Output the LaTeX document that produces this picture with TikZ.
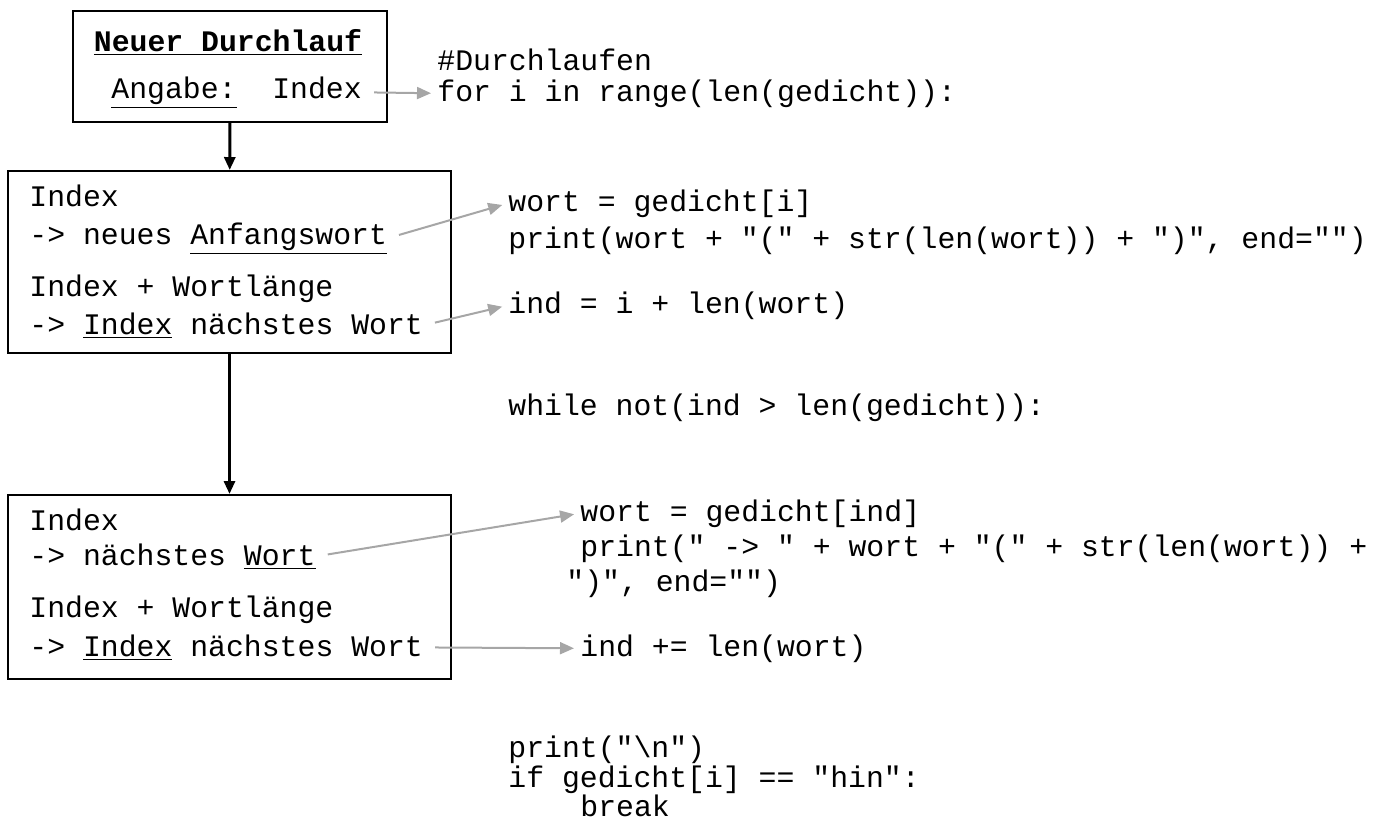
\documentclass[tikz,border=0pt]{standalone}
\usepackage{fontspec}
\setmainfont{Liberation Mono}[Ligatures=TeXOff]
\usetikzlibrary{arrows.meta}
\newcommand{\codefont}{\fontsize{14.9}{18}\selectfont}

\begin{document}
\begin{tikzpicture}[x=0.5pt, y=-0.5pt,
      box/.style={draw, line width=1pt, inner sep=0pt},
      txt/.style={anchor=base west, inner sep=0pt, font=\codefont},
      arr/.style={-{Triangle[length=6.5pt, width=5.5pt]}, line width=1.5pt},
      hint/.style={-{Triangle[length=7pt, width=6pt]}, line width=1pt,
                   draw=black!35, shorten <=6pt, shorten >=3pt}
    ]
      \useasboundingbox (0,0) rectangle (1385,832);

      % Boxes
      \node[box, minimum width=157pt, minimum height=55.5pt] (start) at (230,66.5) {};
      \node[box, minimum width=221.5pt, minimum height=91pt] (first) at (229.5,262) {};
      \node[box, minimum width=221.5pt, minimum height=92pt] (next) at (229.5,587) {};

      % Start box text
      \node[txt, anchor=base, font=\codefont\bfseries] (title) at (228,51) {\underline{Neuer Durchlauf}};
      \node[txt] (angabe) at (111,98) {\underline{Angabe:}~~Index};

      % First word
      \node[txt] (f1) at (29,206) {Index};
      \node[txt] (f2) at (29,244) {->~neues~\underline{Anfangswort}};
      \node[txt] (f3) at (29,296) {Index~+~Wortlänge};
      \node[txt] (f4) at (29,334) {->~\underline{Index}~nächstes~Wort};

      % Next word
      \node[txt] (n1) at (29,530) {Index};
      \node[txt] (n2) at (29,565) {->~nächstes~\underline{Wort}};
      \node[txt] (n3) at (29,617) {Index~+~Wortlänge};
      \node[txt] (n4) at (29,656) {->~\underline{Index}~nächstes~Wort};

      % Code
      \node[txt] (c1) at (437,70) {\#Durchlaufen};
      \node[txt] (c2) at (437,101) {for~i~in~range(len(gedicht)):};
      \node[txt] (c3) at (508,211) {wort~=~gedicht[i]};
      \node[txt] (c4) at (508,248) {print(wort~+~"("~+~str(len(wort))~+~")",~end="")};
      \node[txt] (c5) at (508,313) {ind~=~i~+~len(wort)};
      \node[txt] (c6) at (508,415) {while~not(ind~>~len(gedicht)):};
      \node[txt] (c7) at (580,521) {wort~=~gedicht[ind]};
      \node[txt] (c8) at (580,556) {print("~->~"~+~wort~+~"("~+~str(len(wort))~+};
      \node[txt] (c9) at (566,591) {")",~end="")};
      \node[txt] (c10) at (580,656) {ind~+=~len(wort)};
      \node[txt] (c11) at (508,757) {print("\textbackslash n")};
      \node[txt] (c12) at (508,787) {if~gedicht[i]~==~"hin":};
      \node[txt] (c13) at (580,816) {break};

      \draw[arr] (start) -- (first);
      \draw[arr] (first) -- (next);

      \draw[hint] (angabe.east) -- (c2.west);
      \draw[hint] (f2.east) -- (c3.west);
      \draw[hint] (f4.east) -- (c5.west);
      \draw[hint] (n2.east) -- (c7.west);
      \draw[hint] (n4.east) -- (c10.west);
    \end{tikzpicture}
\end{document}
